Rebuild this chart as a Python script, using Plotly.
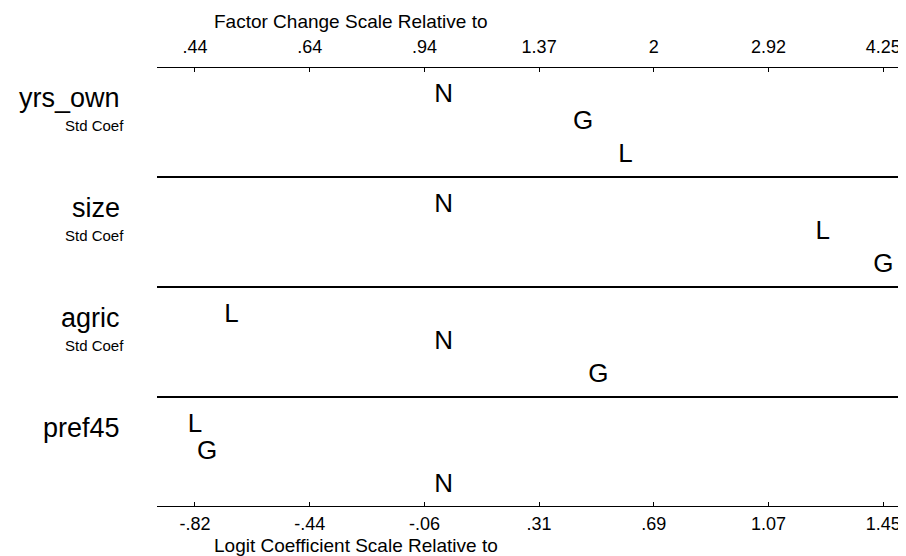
import numpy as np
import plotly.graph_objects as go

# ---- data (logit coefficients relative to category N) ----
variables = ["yrs_own", "size", "agric", "pref45"]
std_coef = [True, True, True, False]
outcomes = ["N", "G", "L"]
coef_N = [0.00, 0.00, 0.00, 0.00]
coef_G = [0.46, 1.45, 0.51, -0.78]
coef_L = [0.60, 1.25, -0.70, -0.82]
logit_tick_labels = ["-.82", "-.44", "-.06", ".31", ".69", "1.07", "1.45"]
factor_tick_labels = [".44", ".64", ".94", "1.37", "2", "2.92", "4.25"]

FONT = "Liberation Sans"
levels = [0.26, 0.505, 0.80]

all_vals = coef_N + coef_G + coef_L
vmin, vmax = min(all_vals), max(all_vals)
tickvals = list(np.linspace(vmin, vmax, len(logit_tick_labels)))

fig = go.Figure()

xs, ys, txt = [], [], []
for i, var in enumerate(variables):
    vals = {"N": coef_N[i], "G": coef_G[i], "L": coef_L[i]}
    order = sorted(outcomes, key=lambda o: vals[o])
    for rank, o in enumerate(order):
        xs.append(vals[o])
        ys.append(i + levels[rank])
        txt.append(o)

fig.add_trace(go.Scatter(x=xs, y=ys, text=txt, mode="text",
                         textposition="middle center",
                         textfont=dict(family=FONT, size=26, color="black"),
                         hoverinfo="skip", showlegend=False))
# invisible trace to activate the top (factor change) axis
fig.add_trace(go.Scatter(x=[vmin, vmax], y=[0, 0], mode="markers",
                         marker=dict(opacity=0), xaxis="x2",
                         hoverinfo="skip", showlegend=False))

xr = [-0.9453, 1.5514]
fig.update_layout(
    width=906, height=556,
    margin=dict(l=149, r=0, t=59, b=57),
    paper_bgcolor="white", plot_bgcolor="white",
    xaxis=dict(range=xr, tickvals=tickvals, ticktext=logit_tick_labels,
               ticks="inside", ticklen=5, tickwidth=1, tickcolor="black",
               showline=False, showgrid=False, zeroline=False,
               ticklabelstandoff=4,
               tickfont=dict(family=FONT, size=18, color="black")),
    xaxis2=dict(range=xr, tickvals=tickvals, ticktext=factor_tick_labels,
                overlaying="x", side="top", anchor="y",
                ticks="inside", ticklen=5, tickwidth=1, tickcolor="black",
                showline=False, showgrid=False, zeroline=False,
                ticklabelstandoff=9,
                tickfont=dict(family=FONT, size=18, color="black")),
    yaxis=dict(range=[4, 0], visible=False, showgrid=False, zeroline=False),
)

for k in range(len(variables) + 1):
    fig.add_shape(type="line", xref="paper", yref="y", x0=0, x1=1, y0=k, y1=k,
                  line=dict(color="black", width=2))

for i, var in enumerate(variables):
    fig.add_annotation(text=var, xref="paper", yref="y", x=-0.046, y=i + 0.285,
                       xanchor="right", yanchor="middle", showarrow=False,
                       font=dict(family=FONT, size=27, color="black"))
    if std_coef[i]:
        fig.add_annotation(text="Std Coef", xref="paper", yref="y", x=-0.0832,
                           y=i + 0.53, xanchor="center", yanchor="middle",
                           showarrow=False,
                           font=dict(family=FONT, size=15, color="black"))

fig.add_annotation(text="Factor Change Scale Relative to", xref="paper", yref="paper",
                   x=(204 - 149) / 757, y=1.1045, xanchor="left", yanchor="middle",
                   showarrow=False, font=dict(family=FONT, size=19, color="black"))
fig.add_annotation(text="Logit Coefficient Scale Relative to", xref="paper", yref="paper",
                   x=(204 - 149) / 757, y=-0.0885, xanchor="left", yanchor="middle",
                   showarrow=False, font=dict(family=FONT, size=19, color="black"))

fig.write_html("out.html")
